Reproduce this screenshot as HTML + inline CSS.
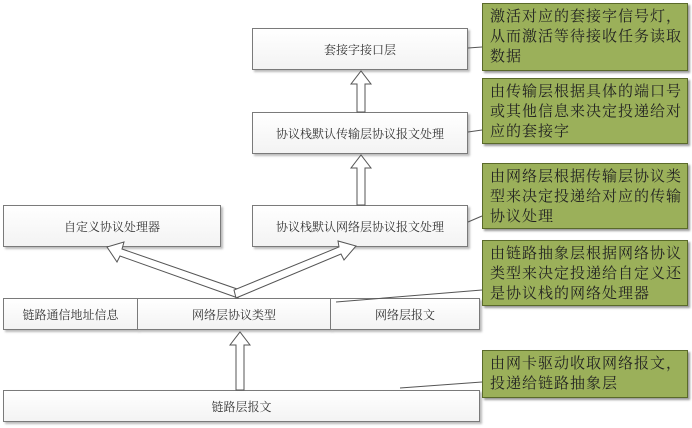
<!DOCTYPE html>
<html><head><meta charset="utf-8"><style>
body{margin:0;width:692px;height:428px;background:#fff;position:relative;overflow:hidden;font-family:"Liberation Serif","Noto Serif CJK SC",serif;}
.b{position:absolute;box-sizing:border-box;border:1px solid #7a7a7a;background:linear-gradient(#fff,#f3f3f3);box-shadow:2px 2px 2px #bbb;display:flex;align-items:center;justify-content:center;font-size:12px;color:#333;}
.n{position:absolute;box-sizing:border-box;border:1px solid #5a6a2a;background:#9bb05a;box-shadow:2px 2px 2px #999;font-size:15px;letter-spacing:1px;line-height:20px;color:#222;padding:3px 4px 3px 7px;left:482px;width:206px;}
svg{position:absolute;left:0;top:0}
</style></head><body>
<div class="b" style="left:252px;top:28px;width:216px;height:42px">套接字接口层</div>
<div class="b" style="left:252px;top:112px;width:216px;height:42px">协议栈默认传输层协议报文处理</div>
<div class="b" style="left:3px;top:205px;width:218px;height:42px">自定义协议处理器</div>
<div class="b" style="left:252px;top:205px;width:216px;height:42px">协议栈默认网络层协议报文处理</div>
<div class="b" style="left:3px;top:298px;width:135px;height:32px">链路通信地址信息</div>
<div class="b" style="left:137px;top:298px;width:194px;height:32px">网络层协议类型</div>
<div class="b" style="left:330px;top:298px;width:150px;height:32px">网络层报文</div>
<div class="b" style="left:3px;top:390px;width:477px;height:32px">链路层报文</div>
<div class="n" style="top:3px;height:68px">激活对应的套接字信号灯，从而激活等待接收任务读取数据</div>
<div class="n" style="top:78px;height:66px">由传输层根据具体的端口号或其他信息来决定投递给对应的套接字</div>
<div class="n" style="top:163px;height:66px">由网络层根据传输层协议类型来决定投递给对应的传输协议处理</div>
<div class="n" style="top:240px;height:66px">由链路抽象层根据网络协议类型来决定投递给自定义还是协议栈的网络处理器</div>
<div class="n" style="top:350px;height:48px">由网卡驱动收取网络报文，投递给链路抽象层</div>
<svg width="692" height="428">
<g fill="#fff" stroke="#555" stroke-width="1">
<polygon points="357,112 357,84 351,84 361,71 371,84 365,84 365,112"/>
<polygon points="357,205 357,168 351,168 361,155 371,168 365,168 365,205"/>
<polygon points="236,390 236,345 230,345 240,332 250,345 244,345 244,390"/>
<polygon points="238,298 120,256 117,262 107,247 124,242 122,249 240,290"/>
<polygon points="236,298 341,254 344,260 356,246 338,241 339,247 234,290"/>
</g>
<g stroke="#555" stroke-width="1">
<line x1="468" y1="48" x2="482" y2="47"/>
<line x1="468" y1="132" x2="482" y2="130"/>
<line x1="468" y1="222" x2="482" y2="216"/>
<line x1="336" y1="302" x2="482" y2="290"/>
<line x1="400" y1="388" x2="482" y2="382"/>
</g>
</svg>
</body></html>
